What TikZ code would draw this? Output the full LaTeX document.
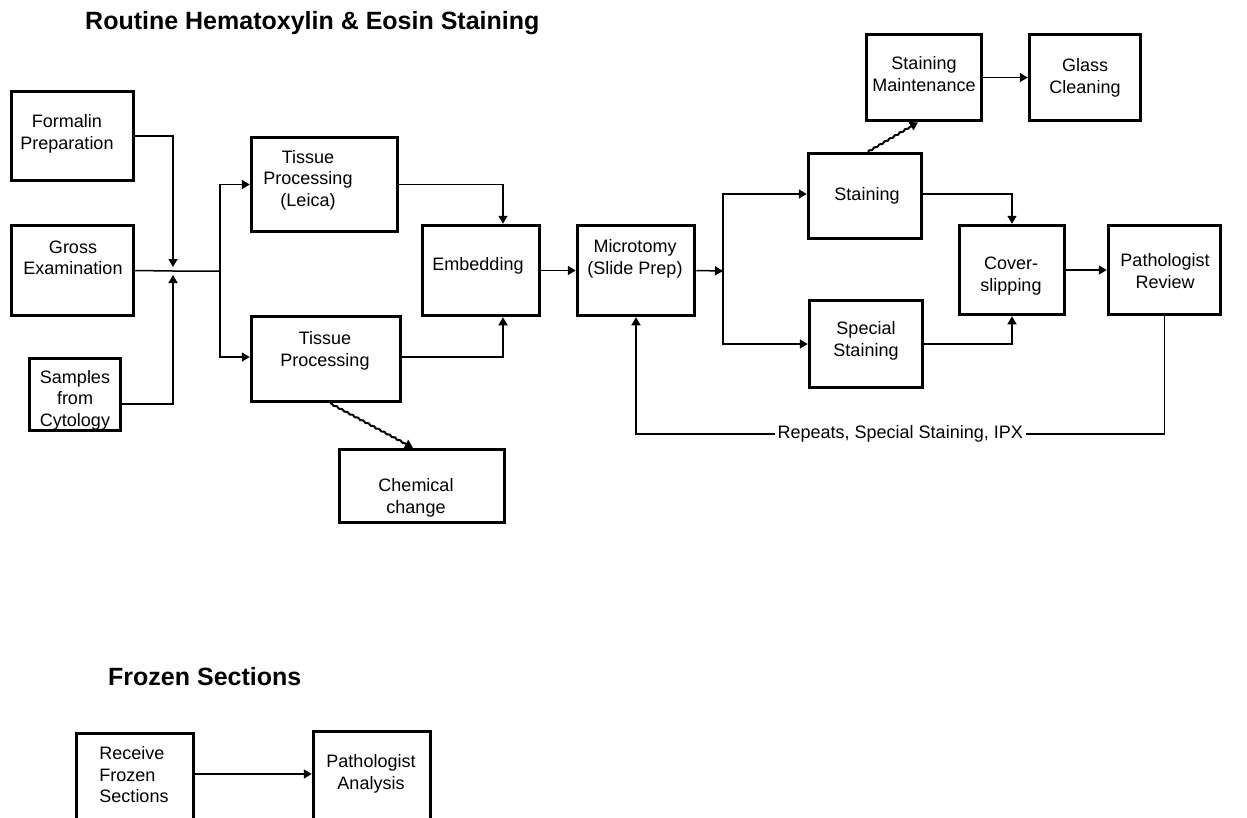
\documentclass[tikz,border=0pt]{standalone}
\usepackage{fontspec}
\setmainfont{Liberation Sans}
\usetikzlibrary{arrows.meta,decorations.pathmorphing}

\tikzset{
  box/.style={draw, line width=3.5pt, inner sep=0pt},
  txt/.style={align=center, inner sep=0pt, font=\fontsize{18}{21.5}\selectfont},
  flow/.style={line width=1.5pt, -{Triangle[length=8pt,width=9pt]}},
  wavy/.style={line width=2pt, decorate, decoration={zigzag, segment length=6pt, amplitude=0.6pt, post length=8pt}},
  heading/.style={anchor=base west, inner sep=0pt, font=\bfseries\fontsize{25}{30}\selectfont}
}

\begin{document}
\begin{tikzpicture}[x=1pt,y=-1pt]
    \useasboundingbox[fill=white] (0,0) rectangle (1247,817);
    \node[heading] (title) at (85,29) {Routine Hematoxylin \& Eosin Staining};
    \node[heading] (frozen) at (108,685) {Frozen Sections};
    % boxes
    \node[box, minimum width=122, minimum height=89] (formalin) at (72.5,136) {};
    \node[box, minimum width=122, minimum height=90] (gross) at (72.5,270.5) {};
    \node[box, minimum width=91, minimum height=72] (cyto) at (75,394.5) {};
    \node[box, minimum width=146, minimum height=94] (leica) at (324.5,184.5) {};
    \node[box, minimum width=149, minimum height=85] (tp) at (326,359) {};
    \node[box, minimum width=165, minimum height=73] (chem) at (422,486) {};
    \node[box, minimum width=117, minimum height=90] (embed) at (481,270.5) {};
    \node[box, minimum width=117, minimum height=90] (micro) at (636,270.5) {};
    \node[box, minimum width=115, minimum height=86] (maint) at (924,77.5) {};
    \node[box, minimum width=111, minimum height=86] (glass) at (1085,77.5) {};
    \node[box, minimum width=113, minimum height=85] (stain) at (865,196) {};
    \node[box, minimum width=113, minimum height=87] (spec) at (866,344) {};
    \node[box, minimum width=105, minimum height=89] (cover) at (1012,270) {};
    \node[box, minimum width=112, minimum height=89] (patho) at (1164.5,270) {};
    \node[box, minimum width=117, minimum height=101] (recv) at (135,784) {};
    \node[box, minimum width=117, minimum height=103] (ana) at (372,783) {};
    % texts
    \node[txt] (formalinT) at (67,134) {Formalin\\Preparation};
    \node[txt] (grossT) at (73,258) {Gross\\Examination};
    \node[txt] (cytoT) at (75,400) {Samples\\from\\Cytology};
    \node[txt] (leicaT) at (308,180) {Tissue\\Processing\\(Leica)};
    \node[txt] (tpT) at (325,351) {Tissue\\Processing};
    \node[txt] (chemT) at (416,498) {Chemical\\change};
    \node[txt] (embedT) at (478,266) {Embedding};
    \node[txt] (microT) at (635,259) {Microtomy\\(Slide Prep)};
    \node[txt] (maintT) at (924,74) {Staining\\Maintenance};
    \node[txt] (glassT) at (1085,78) {Glass\\Cleaning};
    \node[txt] (stainT) at (867,196) {Staining};
    \node[txt] (specT) at (866,341) {Special\\Staining};
    \node[txt] (coverT) at (1011,276) {Cover-\\slipping};
    \node[txt] (pathoT) at (1165,271) {Pathologist\\Review};
    \node[txt, align=left] (recvT) at (134,775) {Receive\\Frozen\\Sections};
    \node[txt] (anaT) at (371,774) {Pathologist\\Analysis};
    % connectors
    \coordinate (join) at (173,271);
    \coordinate (split) at (220,271);
    \coordinate (fork) at (723,271);
    \coordinate (back) at (1164.5,434);
    \draw[flow] (formalin.east) -| ([yshift=4pt]join);
    \draw[flow] ([yshift=-9.5pt]cyto.east) -| ([yshift=-4pt]join);
    \draw[line width=1.5pt] (gross.east) -- (join) -- (split);
    \draw[flow] (split) |- (leica.west);
    \draw[flow] (split) |- ([yshift=2pt]tp.west);
    \draw[flow] (leica.east) -| ([xshift=22pt]embed.north);
    \draw[flow] ([yshift=2pt]tp.east) -| ([xshift=22pt]embed.south);
    \draw[flow] (embed) -- (micro);
    \draw[flow] (micro.east) -- (fork);
    \draw[flow] (fork) |- ([yshift=2pt]stain.west);
    \draw[flow] (fork) |- (spec.west);
    \draw[flow] ([yshift=2pt]stain.east) -| (cover.north);
    \draw[flow] (spec.east) -| (cover.south);
    \draw[flow] (cover) -- (patho);
    \draw[flow] (patho.south) -- (back) -- node[txt, fill=white, inner xsep=3pt] (backT) {Repeats, Special Staining, IPX} (back -| micro.south) -- (micro.south);
    \draw[flow] (maint) -- (glass);
    \draw[flow, wavy] ([xshift=3pt]stain.north) -- ([xshift=-6pt]maint.south);
    \draw[flow, wavy] ([xshift=4pt]tp.south) -- ([xshift=-9pt]chem.north);
    \draw[flow] ([yshift=10pt]recv.east) -- ([yshift=10pt]recv.east -| ana.west);
\end{tikzpicture}
\end{document}
